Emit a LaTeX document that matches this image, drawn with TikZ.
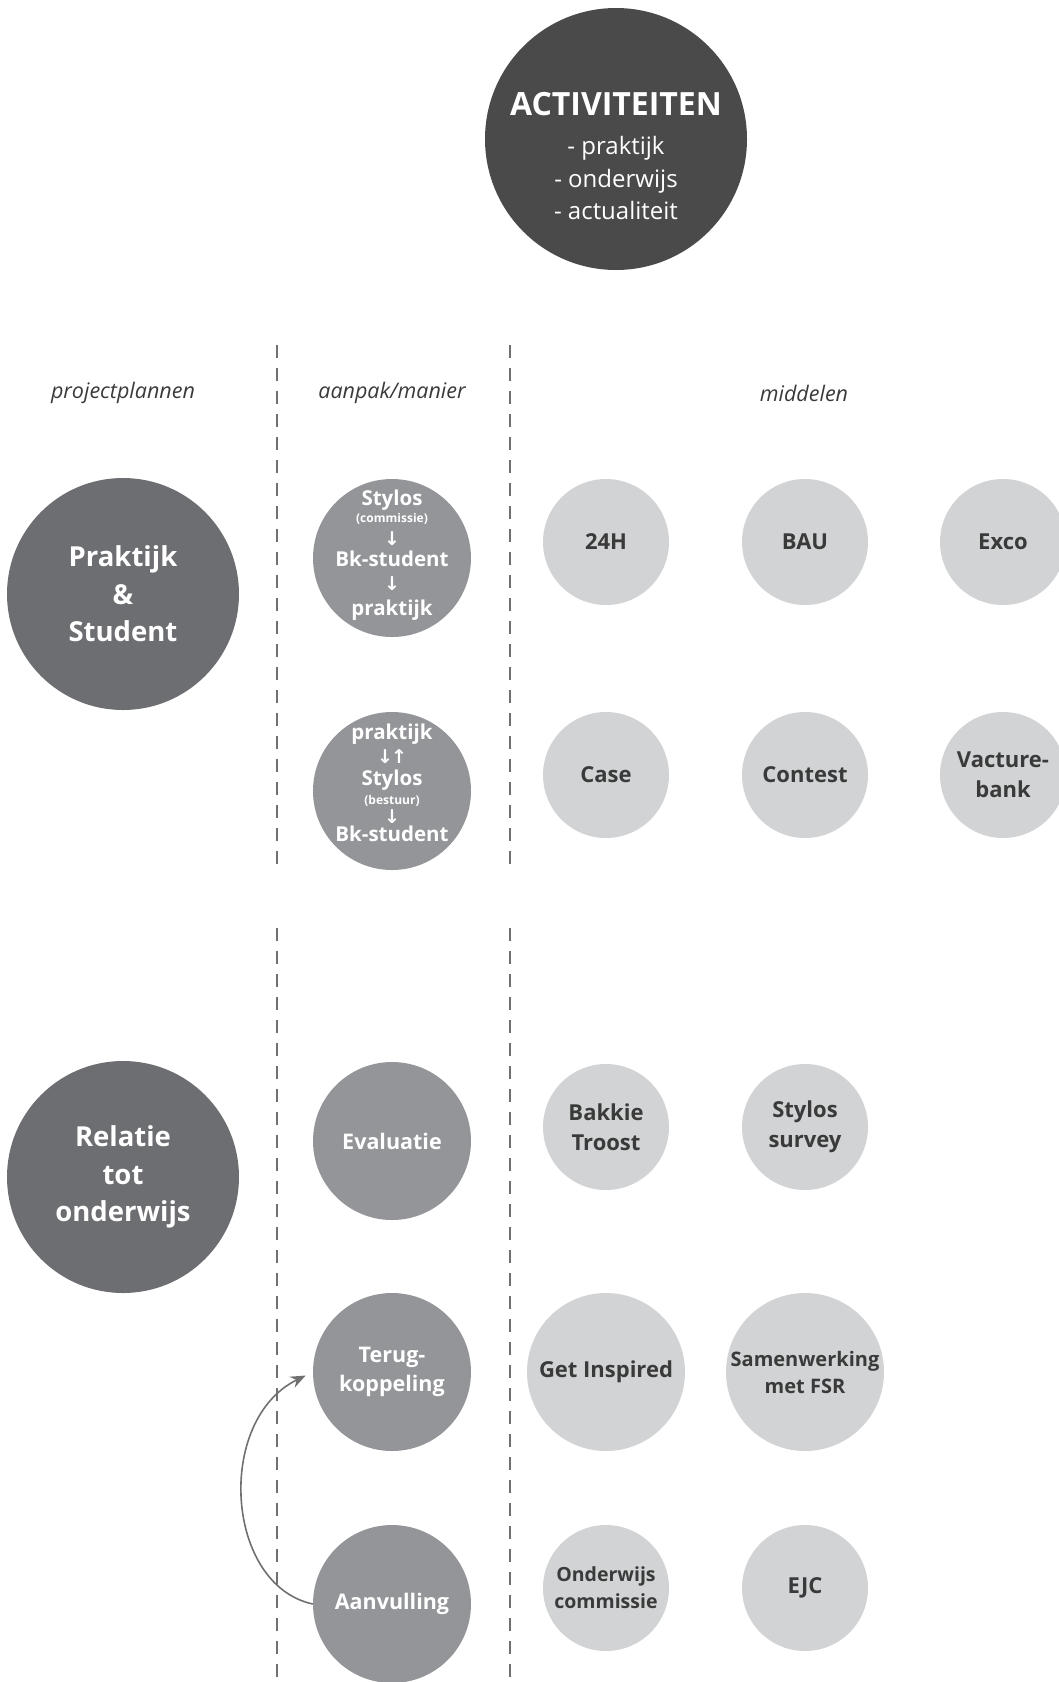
\documentclass[tikz,border=0pt]{standalone}
\usepackage{fontspec}
\setmainfont{Open Sans}
\newfontfamily\pijlfont{DejaVu Sans}
\usetikzlibrary{arrows.meta}

\definecolor{donker}{HTML}{4A4A4B}
\definecolor{plankleur}{HTML}{6D6E71}
\definecolor{wijzekleur}{HTML}{939598}
\definecolor{middelkleur}{HTML}{D1D3D4}
\definecolor{inkt}{HTML}{3A3A3A}
\definecolor{lijn}{HTML}{707070}

\tikzset{
  plan/.style={circle, fill=plankleur, minimum size=232pt, inner sep=0pt, text=white,
    align=center, font=\bfseries\fontsize{27.5}{37.5}\selectfont},
  wijze/.style={circle, fill=wijzekleur, minimum size=158pt, inner sep=0pt, text=white,
    align=center, font=\bfseries\fontsize{21.5}{29}\selectfont},
  wijzetekst/.style={inner sep=0pt, text=white, align=center,
    font=\bfseries\fontsize{20.5}{21}\selectfont},
  middel/.style={circle, fill=middelkleur, minimum size=126pt, inner sep=0pt, text=inkt,
    align=center, font=\bfseries\fontsize{22}{30}\selectfont},
  middelgroot/.style={middel, minimum size=158pt},
  kop/.style={text=inkt, font=\itshape\fontsize{21.5}{24}\selectfont},
  scheiding/.style={lijn, line width=1.4pt, dash pattern=on 13pt off 10pt}
}

\newcommand{\klein}[1]{{\fontsize{12}{12}\selectfont #1}}
\newcommand{\pijl}[1]{{\pijlfont\bfseries\fontsize{19}{19}\selectfont #1}}

\begin{document}
\begin{tikzpicture}[x=1pt, y=-1pt]
    \useasboundingbox (0,0) rectangle (1058,1682);

    % bovenste cirkel
    \node[circle, fill=donker, minimum size=262pt, inner sep=0pt] (act) at (616,139) {};
    \node[text=white, align=center, font=\fontsize{24}{32.5}\selectfont] (acttekst)
      at ([yshift=-17pt]act.center)
      {{\bfseries\fontsize{32}{32}\selectfont ACTIVITEITEN}\\[7pt]- praktijk\\- onderwijs\\- actualiteit};

    % kolomkoppen
    \node[kop] (k1) at (123,393) {projectplannen};
    \node[kop] (k2) at (392,393) {aanpak/manier};
    \node[kop] (k3) at (804,393) {middelen};

    \draw[scheiding] (277,345) -- (277,870);
    \draw[scheiding] (510,345) -- (510,870);
    \draw[scheiding] (277,928) -- (277,1682);
    \draw[scheiding] (510,928) -- (510,1682);

    % projectplannen
    \node[plan] (p1) at (123,594) {Praktijk\\\&\\Student};
    \node[plan] (p2) at (123,1177) {Relatie\\tot\\onderwijs};

    % aanpak
    \node[wijze] (w1) at (392,558) {};
    \node[wijzetekst] (w1tekst) at ([yshift=3pt]w1.center)
      {Stylos\\[-4pt]\klein{(commissie)}\\[1.5pt]\pijl{↓}\\Bk-student\\[3.5pt]\pijl{↓}\\[3.5pt]praktijk};
    \node[wijze] (w2) at (392,791) {};
    \node[wijzetekst] (w2tekst) at ([yshift=8pt]w2.center)
      {praktijk\\[3.5pt]\pijl{↓\kern-2pt↑}\\[0.5pt]Stylos\\[-2pt]\klein{(bestuur)}\\[-1.5pt]\pijl{↓}\\[-3pt]Bk-student};
    \node[wijze] (w3) at (392,1141) {Evaluatie};
    \node[wijze] (w4) at (392,1372) {Terug-\\koppeling};
    \node[wijze] (w5) at (392,1604) {Aanvulling};

    % middelen
    \node[middel] (m1) at (606,542) {24H};
    \node[middel] (m2) at (805,542) {BAU};
    \node[middel] (m3) at (1003,542) {Exco};
    \node[middel] (m4) at (606,775) {Case};
    \node[middel] (m5) at (805,775) {Contest};
    \node[middel] (m6) at (1003,775) {Vacture-\\bank};
    \node[middel] (m7) at (606,1127) {Bakkie\\Troost};
    \node[middel] (m8) at (805,1127) {Stylos\\survey};
    \node[middelgroot] (m9) at (606,1372) {Get Inspired};
    \node[middelgroot, font=\bfseries\fontsize{20}{27}\selectfont] (m10) at (805,1372) {Samenwerking\\met FSR};
    \node[middel, font=\bfseries\fontsize{19.5}{27}\selectfont] (m11) at (606,1588) {Onderwijs\\commissie};
    \node[middel] (m12) at (805,1588) {EJC};

    \draw[lijn, line width=1.6pt, -{Stealth[length=15pt, width=12pt]}, shorten >=8pt]
      (w5.west) .. controls (225,1585) and (215,1420) .. (w4.west);
\end{tikzpicture}
\end{document}
